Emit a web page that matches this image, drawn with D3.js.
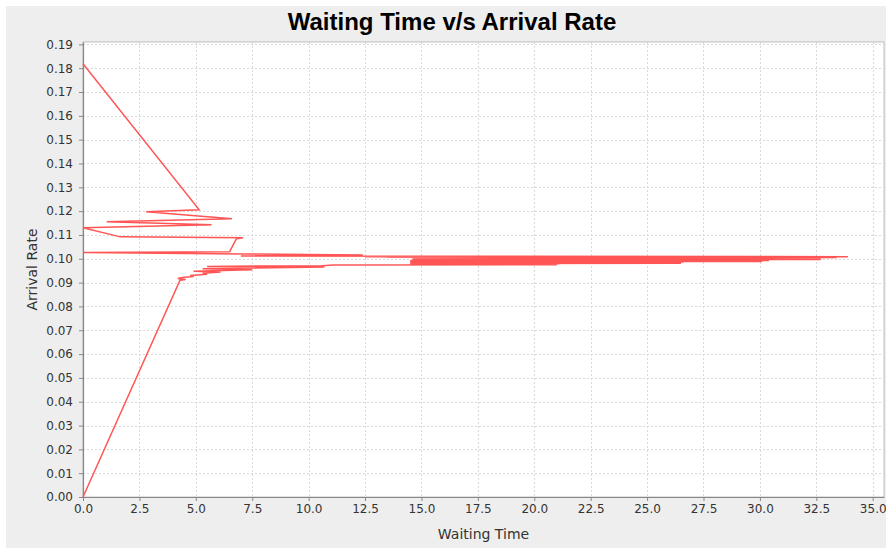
<!DOCTYPE html>
<html>
<head>
<meta charset="utf-8">
<script src="https://cdn.jsdelivr.net/npm/d3@7"></script>
<style>
  html, body { margin: 0; padding: 0; background: #ffffff; }
  svg { display: block; }
</style>
</head>
<body>
<svg id="chart" width="886" height="550"></svg>
<script>
// Measurements, ordered by increasing arrival rate
const waitingTime = [
  0, 4.30, 4.55, 4.20, 4.40, 4.90, 4.75, 5.50, 5.30, 6.10,
  4.90, 7.50, 5.30, 10.70, 5.50, 10.60, 11.10, 21.00, 14.60, 21.00,
  14.50, 21.10, 14.60, 26.50, 14.50, 26.40, 14.60, 26.50, 14.50, 26.60,
  14.70, 30.10, 14.60, 30.00, 14.50, 30.40, 14.60, 30.30, 14.70, 32.70,
  14.60, 32.60, 14.80, 32.70, 14.70, 32.60, 14.60, 33.40, 13.50, 33.30,
  12.50, 33.90, 7.00, 12.40, 7.10, 0, 6.50, 6.80, 7.10, 1.65,
  0, 5.70, 1.05, 6.60, 2.80, 5.15, 0
];
const arrivalRate = [
  0, 0.0910, 0.0913, 0.0917, 0.0921, 0.0926, 0.0930, 0.0935, 0.0939, 0.0944,
  0.0948, 0.0954, 0.0958, 0.0966, 0.0968, 0.0971, 0.0974, 0.0975, 0.0976, 0.0977,
  0.0978, 0.0979, 0.0980, 0.0981, 0.0982, 0.0983, 0.0984, 0.0985, 0.0986, 0.0987,
  0.0988, 0.0989, 0.0990, 0.0991, 0.0992, 0.0993, 0.0994, 0.0995, 0.0996, 0.0997,
  0.0998, 0.0999, 0.1000, 0.1001, 0.1002, 0.1003, 0.1004, 0.1005, 0.1006, 0.1007,
  0.1008, 0.1009, 0.1012, 0.1016, 0.1020, 0.1026, 0.1030, 0.1084, 0.1088, 0.1092,
  0.1130, 0.1143, 0.1155, 0.1168, 0.1197, 0.1206, 0.1819
];
const xTicks = [0, 2.5, 5, 7.5, 10, 12.5, 15, 17.5, 20, 22.5, 25, 27.5, 30, 32.5, 35];
const yTicks = [0, 0.01, 0.02, 0.03, 0.04, 0.05, 0.06, 0.07, 0.08, 0.09,
                0.10, 0.11, 0.12, 0.13, 0.14, 0.15, 0.16, 0.17, 0.18, 0.19];
const xDomain = [0, 35.5];
const yDomain = [0, 0.191];

const points = waitingTime.map((w, i) => ({ x: w, y: arrivalRate[i] }));

const svg = d3.select("#chart");
const plot = { left: 83, right: 884, top: 42, bottom: 497 };

// chart panel background
svg.append("rect")
  .attr("x", 6).attr("y", 6).attr("width", 880).attr("height", 542)
  .attr("fill", "#eeeeee");

const x = d3.scaleLinear().domain(xDomain).range([plot.left, plot.right]);
const y = d3.scaleLinear().domain(yDomain).range([plot.bottom, plot.top]);

// plot area
svg.append("rect")
  .attr("x", plot.left).attr("y", plot.top)
  .attr("width", plot.right - plot.left).attr("height", plot.bottom - plot.top)
  .attr("fill", "#ffffff")
  .attr("stroke", "#9a9a9a").attr("stroke-width", 0.6);

// dashed grid
const grid = svg.append("g")
  .attr("stroke", "#d9d9d9").attr("stroke-width", 1)
  .attr("stroke-dasharray", "2,2").attr("shape-rendering", "crispEdges");
grid.selectAll("line.v").data(xTicks.filter(t => t > 0)).join("line")
  .attr("x1", d => Math.round(x(d)) + 0.5).attr("x2", d => Math.round(x(d)) + 0.5)
  .attr("y1", plot.top).attr("y2", plot.bottom);
grid.selectAll("line.h").data(yTicks.filter(t => t > 0)).join("line")
  .attr("y1", d => Math.round(y(d)) + 0.5).attr("y2", d => Math.round(y(d)) + 0.5)
  .attr("x1", plot.left).attr("x2", plot.right);

// axes
const xAxis = d3.axisBottom(x).tickValues(xTicks).tickFormat(d3.format(".1f"))
  .tickSizeInner(4).tickSizeOuter(0).tickPadding(3);
const yAxis = d3.axisLeft(y).tickValues(yTicks).tickFormat(d3.format(".2f"))
  .tickSizeInner(4).tickSizeOuter(0).tickPadding(6);

const gx = svg.append("g").attr("transform", `translate(0,${plot.bottom})`).call(xAxis);
const gy = svg.append("g").attr("transform", `translate(${plot.left},0)`).call(yAxis);
[gx, gy].forEach(g => {
  g.select(".domain").attr("stroke", "#888888").attr("stroke-width", 1.2);
  g.selectAll(".tick line").attr("stroke", "#888888");
  g.selectAll(".tick text")
    .attr("fill", "#333333")
    .style("font-family", "'DejaVu Sans', sans-serif")
    .style("font-size", "12px");
});

// data series
const line = d3.line().x(d => x(d.x)).y(d => y(d.y)).curve(d3.curveLinear);
svg.append("path")
  .datum(points)
  .attr("d", line)
  .attr("fill", "none")
  .attr("stroke", "#ff5555")
  .attr("stroke-width", 1.5)
  .attr("stroke-linejoin", "miter");

// title and axis labels
svg.append("text")
  .attr("x", 452).attr("y", 30)
  .attr("text-anchor", "middle")
  .style("font-family", "'Liberation Sans', Arial, sans-serif")
  .style("font-weight", "bold").style("font-size", "24px")
  .attr("fill", "#000000")
  .text("Waiting Time v/s Arrival Rate");

svg.append("text")
  .attr("x", (plot.left + plot.right) / 2).attr("y", 539)
  .attr("text-anchor", "middle")
  .style("font-family", "'DejaVu Sans', sans-serif").style("font-size", "14px")
  .attr("fill", "#333333")
  .text("Waiting Time");

svg.append("text")
  .attr("transform", `translate(37,${(plot.top + plot.bottom) / 2}) rotate(-90)`)
  .attr("text-anchor", "middle")
  .style("font-family", "'DejaVu Sans', sans-serif").style("font-size", "14px")
  .attr("fill", "#333333")
  .text("Arrival Rate");
</script>
</body>
</html>
